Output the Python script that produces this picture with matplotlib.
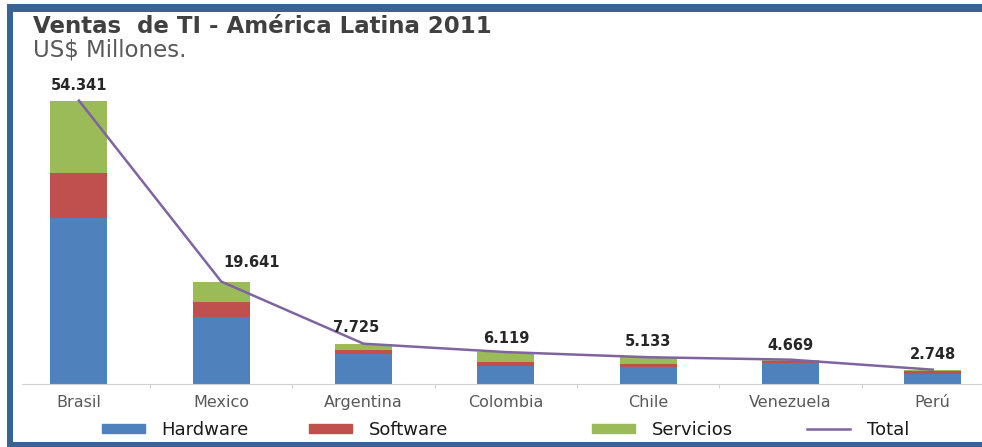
# Ventas de TI - America Latina 2011

import numpy as np
import matplotlib
import matplotlib.pyplot as plt
from matplotlib.patches import Rectangle, Patch
from matplotlib.lines import Line2D

matplotlib.use('Agg')

# Datos (US$ millones)
paises = ['Brasil', 'Mexico', 'Argentina', 'Colombia', 'Chile', 'Venezuela', 'Perú']
hardware = [31800, 12800, 5750, 3500, 3200, 3950, 2000]
software = [8600, 2900, 830, 700, 700, 450, 450]
servicios = [13941, 3941, 1145, 1919, 1233, 269, 298]
total = [54341, 19641, 7725, 6119, 5133, 4669, 2748]
etiquetas = ['54.341', '19.641', '7.725', '6.119', '5.133', '4.669', '2.748']

# desplazamiento de las etiquetas (puntos)
etq_dx = [0, 22, -5, 0, 0, 0, 0]
etq_dy = [11, 14, 12, 10, 11, 10, 11]

AZUL = '#4f81bd'
ROJO = '#c0504d'
VERDE = '#9bbb59'
MORADO = '#8064a2'
BORDE = '#3a6395'

W, H = 982, 447


def grafica():
    fig = plt.figure(figsize=(W / 100, H / 100), dpi=100)
    fig.patch.set_facecolor('white')

    # marco azul
    fig.patches.append(Rectangle((7 / W, 1 - 12 / H), 1, 8 / H, transform=fig.transFigure,
                                 facecolor=BORDE, edgecolor='none'))
    fig.patches.append(Rectangle((7 / W, 0), 6 / W, 1 - 4 / H, transform=fig.transFigure,
                                 facecolor=BORDE, edgecolor='none'))
    fig.patches.append(Rectangle((7 / W, 0), 1, 5 / H, transform=fig.transFigure,
                                 facecolor=BORDE, edgecolor='none'))

    ax = fig.add_axes([22 / W, (H - 384) / H, 960 / W, 313 / H])
    x = np.arange(len(paises))
    hw = np.array(hardware)
    sw = np.array(software)
    sv = np.array(servicios)

    ax.bar(x, hw, width=0.4, color=AZUL)
    ax.bar(x, sw, width=0.4, bottom=hw, color=ROJO)
    ax.bar(x, sv, width=0.4, bottom=hw + sw, color=VERDE)
    ax.plot(x, total, color=MORADO, lw=1.8)

    for i in range(len(paises)):
        ax.annotate(etiquetas[i], (x[i], total[i]), xytext=(etq_dx[i], etq_dy[i]),
                    textcoords='offset points', ha='center', va='center',
                    fontsize=10.5, fontweight='bold', color='#262626')

    ax.set_xlim(-0.4, -0.4 + 960 / 142.3)
    ax.set_ylim(0, 60000)
    for s in ['top', 'right', 'left']:
        ax.spines[s].set_visible(False)
    ax.spines['bottom'].set_color('#d0d0d0')
    ax.set_yticks([])
    ax.set_xticks(x)
    ax.set_xticklabels(paises, fontsize=11.5, color='#595959')
    ax.set_xticks(x[:-1] + 0.5, minor=True)
    ax.tick_params(axis='x', which='major', length=0, pad=8)
    ax.tick_params(axis='x', which='minor', length=3, color='#c8c8c8')

    # leyenda
    items = [
        (Patch(color=AZUL), 'Hardware', 102),
        (Patch(color=ROJO), 'Software', 309),
        (Patch(color=VERDE), 'Servicios', 592),
        (Line2D([], [], color=MORADO, lw=1.8), 'Total', 807),
    ]
    for h, t, px in items:
        leg = fig.legend([h], [t], loc='center left', bbox_to_anchor=(px / W, 17 / H),
                         frameon=False, fontsize=13, handlelength=2.4, handleheight=0.45,
                         handletextpad=0.9, borderaxespad=0, borderpad=0)
        for txt in leg.get_texts():
            txt.set_color('#1a1a1a')

    # titulos
    fig.text(33 / W, 1 - 33 / H, 'Ventas  de TI - América Latina 2011', fontsize=16.5,
             fontweight='bold', color='#404040', va='baseline')
    fig.text(33 / W, 1 - 56 / H, 'US$ Millones.', fontsize=16.5, color='#595959',
             va='baseline')

    fig.savefig('out.png', dpi=100)


if __name__ == '__main__':
    grafica()
